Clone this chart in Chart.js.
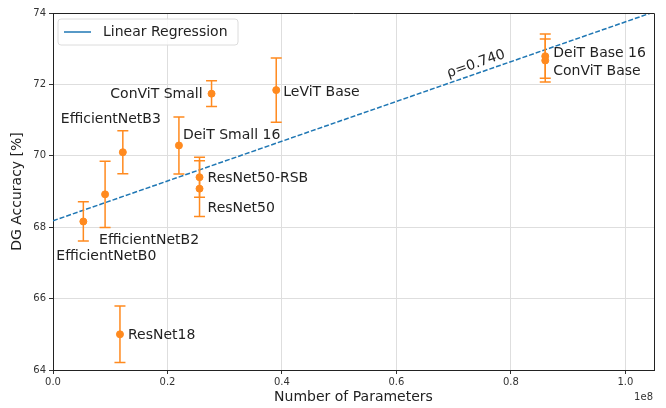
<!DOCTYPE html>
<html><head><meta charset="utf-8">
<script src="https://cdn.jsdelivr.net/npm/chart.js@4"></script>
<style>html,body{margin:0;padding:0;background:#fff}#wrap{width:666px;height:408px;position:relative}</style>
</head><body><div id="wrap"><canvas id="c" width="666" height="408"></canvas></div>
<script>
// ---- data ----
const models   = ['EfficientNetB0','EfficientNetB2','EfficientNetB3','ResNet18','DeiT Small 16','ConViT Small','LeViT Base','ResNet50-RSB','ResNet50','DeiT Base 16','ConViT Base'];
const params   = [5.3e6, 9.1e6, 12.2e6, 11.7e6, 22.0e6, 27.7e6, 39.0e6, 25.6e6, 25.6e6, 86.0e6, 86.0e6];
const accMean  = [68.16, 68.92, 70.10, 65.00, 70.29, 71.74, 71.84, 69.40, 69.08, 72.79, 72.67];
const accErr   = [0.55, 0.93, 0.60, 0.79, 0.80, 0.36, 0.90, 0.56, 0.78, 0.62, 0.60];
const regX     = [0, 1.05e8];
const regY     = [68.18, 74.03];
const rhoLabel = 'ρ=0.740';
const xTickVals = [0, 0.2e8, 0.4e8, 0.6e8, 0.8e8, 1.0e8];
const yTickVals = [64, 66, 68, 70, 72, 74];

// ---- label placement (pixel offsets from the point, style only) ----
const labelPlace = {
  'EfficientNetB0': {dx:-27, dy:35, align:'left'},
  'EfficientNetB2': {dx:-6, dy:46, align:'left'},
  'EfficientNetB3': {dx:38, dy:-33, align:'right'},
  'ResNet18':       {dx:8, dy:1, align:'left'},
  'DeiT Small 16':  {dx:4, dy:-10, align:'left'},
  'ConViT Small':   {dx:-9, dy:1, align:'right'},
  'LeViT Base':     {dx:7, dy:2, align:'left'},
  'ResNet50-RSB':   {dx:8, dy:1, align:'left'},
  'ResNet50':       {dx:8, dy:20, align:'left'},
  'DeiT Base 16':   {dx:8, dy:-3, align:'left'},
  'ConViT Base':    {dx:8, dy:11, align:'left'}
};

const ORANGE = '#ff8a1f';
const BLUE = '#1f77b4';
const FONT = 'DejaVu Sans';
const LBL = '14px "'+FONT+'"';

const points = params.map((p,i)=>({x:p, y:accMean[i]}));
const regPts = regX.map((x,i)=>({x:x, y:regY[i]}));

const overlay = {
  id:'overlay',
  afterDatasetsDraw(chart){
    const ctx = chart.ctx, xs = chart.scales.x, ys = chart.scales.y, ca = chart.chartArea;
    ctx.save();
    ctx.beginPath(); ctx.rect(ca.left, ca.top, ca.right-ca.left, ca.bottom-ca.top); ctx.clip();
    ctx.strokeStyle = ORANGE; ctx.lineWidth = 1.5;
    for(let i=0;i<params.length;i++){
      const px = xs.getPixelForValue(params[i]);
      const y1 = ys.getPixelForValue(accMean[i]+accErr[i]);
      const y2 = ys.getPixelForValue(accMean[i]-accErr[i]);
      ctx.beginPath();
      ctx.moveTo(px,y1); ctx.lineTo(px,y2);
      ctx.moveTo(px-5.5,y1); ctx.lineTo(px+5.5,y1);
      ctx.moveTo(px-5.5,y2); ctx.lineTo(px+5.5,y2);
      ctx.stroke();
    }
    ctx.restore();
    // labels
    ctx.save();
    ctx.fillStyle = '#222'; ctx.font = LBL; ctx.textBaseline = 'middle';
    models.forEach((m,i)=>{
      const lp = labelPlace[m];
      const px = xs.getPixelForValue(params[i]);
      const py = ys.getPixelForValue(accMean[i]);
      ctx.textAlign = lp.align;
      ctx.fillText(m, px+lp.dx, py+lp.dy);
    });
    // rho text, rotated along regression line
    const ax = xs.getPixelForValue(regX[0]), ay = ys.getPixelForValue(regY[0]);
    const bx = xs.getPixelForValue(regX[1]), by = ys.getPixelForValue(regY[1]);
    const ang = Math.atan2(by-ay, bx-ax);
    ctx.translate(476, 64);
    ctx.rotate(ang);
    ctx.textAlign = 'center';
    ctx.fillText(rhoLabel, 0, 0);
    ctx.restore();
    // legend
    ctx.save();
    const lx=58, ly=19, lw=180, lh=26, r=3;
    ctx.beginPath();
    ctx.moveTo(lx+r,ly); ctx.lineTo(lx+lw-r,ly); ctx.quadraticCurveTo(lx+lw,ly,lx+lw,ly+r);
    ctx.lineTo(lx+lw,ly+lh-r); ctx.quadraticCurveTo(lx+lw,ly+lh,lx+lw-r,ly+lh);
    ctx.lineTo(lx+r,ly+lh); ctx.quadraticCurveTo(lx,ly+lh,lx,ly+lh-r);
    ctx.lineTo(lx,ly+r); ctx.quadraticCurveTo(lx,ly,lx+r,ly);
    ctx.fillStyle='rgba(255,255,255,0.85)'; ctx.fill();
    ctx.strokeStyle='#dcdcdc'; ctx.lineWidth=1; ctx.stroke();
    ctx.strokeStyle=BLUE; ctx.lineWidth=1.5;
    ctx.beginPath(); ctx.moveTo(64,32); ctx.lineTo(91,32); ctx.stroke();
    ctx.fillStyle='#222'; ctx.font=LBL; ctx.textAlign='left'; ctx.textBaseline='middle';
    ctx.fillText('Linear Regression', 103, 32);
    ctx.restore();
    // top & right spines
    ctx.save();
    ctx.strokeStyle='#222'; ctx.lineWidth=1;
    ctx.beginPath();
    ctx.moveTo(ca.left, ca.top+0.5); ctx.lineTo(ca.right+0.5, ca.top+0.5); ctx.lineTo(ca.right+0.5, ca.bottom);
    ctx.stroke();
    ctx.fillStyle='#333'; ctx.font='10px "'+FONT+'"'; ctx.textAlign='right'; ctx.textBaseline='middle';
    ctx.fillText('1e8', 653, 397);
    ctx.restore();
  }
};

new Chart(document.getElementById('c'), {
  type:'scatter',
  data:{ datasets:[
    { label:'Linear Regression', type:'line', data:regPts, borderColor:BLUE, borderWidth:1.5, borderDash:[5,2],
      pointRadius:0, fill:false, tension:0, order:2 },
    { label:'models', data:points, backgroundColor:ORANGE, borderColor:ORANGE, pointRadius:3.5, pointHoverRadius:3.5, order:1 }
  ]},
  options:{
    responsive:false, animation:false, devicePixelRatio:1,
    layout:{padding:{top:13, right:12, left:0, bottom:0}},
    plugins:{legend:{display:false}, tooltip:{enabled:false}},
    scales:{
      x:{ type:'linear', min:0, max:1.05e8,
        afterBuildTicks(s){ s.ticks = xTickVals.map(v=>({value:v})); },
        afterFit(s){ s.height = 38; },
        ticks:{ callback:v=>(v/1e8).toFixed(1), font:{family:FONT,size:10}, color:'#333', padding:2, maxRotation:0 },
        grid:{ color:'#dedede', lineWidth:1, tickColor:'#333', tickLength:4 },
        border:{ color:'#222', width:1 },
        title:{ display:true, text:'Number of Parameters', font:{family:FONT,size:14}, color:'#222', padding:{top:0,bottom:2} }
      },
      y:{ type:'linear', min:64, max:74,
        afterBuildTicks(s){ s.ticks = yTickVals.map(v=>({value:v})); },
        afterFit(s){ s.width = 53; },
        ticks:{ font:{family:FONT,size:10}, color:'#333', padding:3 },
        grid:{ color:'#dedede', lineWidth:1, tickColor:'#333', tickLength:4 },
        border:{ color:'#222', width:1 },
        title:{ display:true, text:'DG Accuracy [%]', font:{family:FONT,size:14}, color:'#222', padding:{top:9,bottom:0} }
      }
    }
  },
  plugins:[overlay]
});
</script>
</body></html>
